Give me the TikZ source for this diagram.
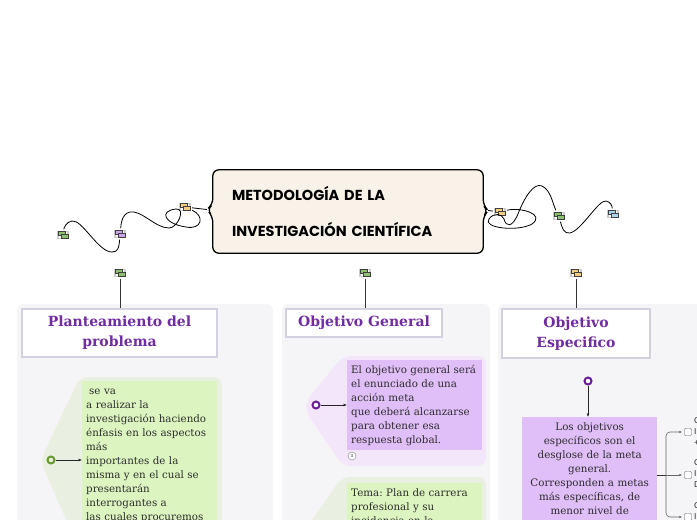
\documentclass[tikz,border=0pt]{standalone}
\usepackage{fontspec}
\setmainfont{DejaVu Serif}
\newfontfamily\handfont{Poppins}
\newfontfamily\smallsans{Liberation Sans}
\usetikzlibrary{
  arrows.meta,
  positioning,
  calc,
  backgrounds
}
\definecolor{MapPurple}{RGB}{112,44,160}
\definecolor{CardPurple}{RGB}{224,190,248}
\definecolor{CardGreen}{RGB}{220,245,192}
\definecolor{TabPurple}{RGB}{244,230,250}
\definecolor{TabGreen}{RGB}{233,240,226}
\definecolor{PanelGray}{RGB}{245,245,248}
\definecolor{TitleLine}{RGB}{212,208,224}
\definecolor{CoreCream}{RGB}{248,242,232}
\definecolor{TextGray}{RGB}{45,45,45}
\definecolor{RingGreen}{RGB}{104,150,48}
\definecolor{RingPurple}{RGB}{106,30,150}
\definecolor{TagGreen}{RGB}{140,192,110}
\definecolor{TagPurple}{RGB}{204,164,236}
\definecolor{TagYellow}{RGB}{242,204,128}
\definecolor{TagBlue}{RGB}{170,212,236}
\tikzset{
  tag/.style={minimum width=14pt,minimum height=11pt,inner sep=0pt,path picture={
    \draw[black!20,line width=1.2pt] ([shift={(-5pt,3.5pt)}]path picture bounding box.center) rectangle ++(10pt,-7pt);
    \draw[draw=black!75,fill=#1,line width=0.6pt] ([shift={(-5pt,3.5pt)}]path picture bounding box.center) rectangle ++(7pt,-4pt);
    \draw[draw=black!75,fill=#1,line width=0.6pt] ([shift={(-2pt,0.5pt)}]path picture bounding box.center) rectangle ++(7pt,-4pt);}},
  core/.style={minimum width=270pt,minimum height=83pt,text width=232pt,align=left,inner sep=0pt,font=\handfont\bfseries\fontsize{14.5}{36}\selectfont},
  titlebox/.style={draw=TitleLine,line width=1.5pt,fill=white,align=center,inner sep=0pt,text=MapPurple,font=\bfseries\fontsize{14}{20}\selectfont},
  card/.style={fill=#1,anchor=north west,inner xsep=4pt,inner ysep=3pt,text width=127pt,align=left,text=TextGray,
    font=\frenchspacing\fontsize{10.3}{14}\selectfont,execute at begin node=\strut,execute at end node=\strut},
  ring/.style={circle,draw=#1,line width=2pt,fill=white,minimum size=7pt,inner sep=0pt},
  tick/.style={draw=black!60,fill=white,minimum size=7pt,inner sep=0pt,rounded corners=1pt},
  wire/.style={line width=0.8pt,draw=black},
  stem/.style={line width=0.8pt,draw=black!80},
  link/.style={-{Latex[length=3.5pt,width=3pt]},line width=0.6pt,draw=black!85},
  branch/.style={-{Latex[length=3pt,width=2.5pt]},line width=0.6pt,draw=black!60,rounded corners=4pt,shorten >=2pt}
}

\begin{document}
\begin{tikzpicture}[x=1pt,y=-1pt]
\useasboundingbox (0,0) rectangle (697,520);
% column panels
\fill[PanelGray,rounded corners=6pt] (17,304) rectangle (273,545);
\fill[PanelGray,rounded corners=6pt] (282,304) rectangle (490,545);
\fill[PanelGray,rounded corners=6pt] (498,304) rectangle (720,545);
% central topic
\node[core] (meta) at (348,211.5) {METODOLOGÍA DE LA\\INVESTIGACIÓN CIENTÍFICA};
\begin{scope}[on background layer]
\draw[line width=1.3pt,fill=CoreCream,rounded corners=6pt] (meta.north west) -- (meta.north east)
  -- ([yshift=6pt]meta.east) -- ([xshift=5pt,yshift=1pt]meta.east) -- ([yshift=-5pt]meta.east)
  -- (meta.south east) -- (meta.south west) -- ([yshift=-5pt]meta.west)
  -- ([xshift=-6pt,yshift=2pt]meta.west) -- ([yshift=7pt]meta.west) -- cycle;
\end{scope}
\coordinate (ltip) at ([xshift=-6pt,yshift=2pt]meta.west);
\coordinate (rtip) at ([xshift=5pt,yshift=1pt]meta.east);
% floating tags
\node[tag=TagYellow] (y1) at (185,207) {};
\node[tag=TagPurple] (p1) at (120,234) {};
\node[tag=TagGreen] (g1) at (63,235) {};
\node[tag=TagYellow] (y2) at (500,212) {};
\node[tag=TagGreen] (g2) at (559,216) {};
\node[tag=TagBlue] (b2) at (613,214) {};
\draw[wire] (y1) -- (ltip);
\draw[wire] (rtip) -- (y2);
\draw[wire] (y1) .. controls (205,216) and (202,230) .. (186,227) .. controls (165,224) and (158,211) .. (176,209)
  .. controls (186,208) and (178,228) .. (169,228) .. controls (155,228) and (142,210) .. (130,212)
  .. controls (121,214) and (121,226) .. (p1);
\draw[wire] (p1) .. controls (119,248) and (118,252) .. (112,252) .. controls (98,252) and (82,219) .. (72,221)
  .. controls (66,222) and (64,228) .. (g1);
\draw[wire] (y2) .. controls (520,207) and (546,214) .. (532,224) .. controls (518,232) and (482,228) .. (489,219)
  .. controls (494,212) and (502,214) .. (504,219) .. controls (506,227) and (512,228) .. (518,214)
  .. controls (524,198) and (534,182) .. (542,186) .. controls (551,190) and (553,205) .. (g2);
\draw[wire] (g2) .. controls (562,228) and (564,234) .. (570,233) .. controls (582,230) and (598,200) .. (606,201)
  .. controls (611,202) and (612,206) .. (b2);
% column heads
\node[titlebox,minimum width=195pt,minimum height=48pt] (t1) at (119.5,333) {Planteamiento del\\problema};
\node[titlebox,minimum width=156pt,minimum height=28pt] (t2) at (364,323) {Objetivo General};
\node[titlebox,minimum width=148pt,minimum height=49pt] (t3) at (576,333.5) {Objetivo\\Especifico};
\node[tag=TagGreen] (g3) at (120,273) {};
\node[tag=TagGreen] (g4) at (365,273) {};
\node[tag=TagYellow] (y3) at (576,273) {};
\draw[stem] (g3) -- (g3 |- t1.north);
\draw[stem] (g4) -- (g4 |- t2.north);
\draw[stem] (y3) -- (y3 |- t3.north);
% left column
\fill[TabGreen,rounded corners=8pt] (80,377) -- (222,377) -- (222,560) -- (84,560) -- (42,465) -- (42,457) -- cycle;
\node[card=CardGreen] (plan) at (82,381) {\hspace{3pt}se va\\a realizar la\\investigación haciendo\\énfasis en los aspectos\\más\\importantes de la\\misma y en el cual se\\presentarán\\interrogantes a\\las cuales procuremos};
\node[ring=RingGreen,fill=TabGreen] (dot1) at (51,460) {};
\draw[link] (dot1) -- (dot1 -| plan.west);
% middle column
\fill[TabPurple,rounded corners=8pt] (343,356) -- (486,356) -- (486,466) -- (343,466) -- (306,412) -- (306,401) -- cycle;
\node[card=CardPurple] (general) at (347,360) {El objetivo general será\\el enunciado de una\\acción meta\\que deberá alcanzarse\\para obtener esa\\respuesta global.};
\node[ring=RingPurple] (dot2) at (316,405) {};
\draw[link] (dot2) -- (dot2 -| general.west);
\node[circle,draw=black!50,fill=white,minimum size=8pt,inner sep=0pt,font=\fontsize{4}{4}\selectfont] (count) at (352,456) {3};
\fill[TabGreen,rounded corners=8pt] (342,477) -- (486,477) -- (486,560) -- (300,560) -- (305,530) -- cycle;
\node[card=CardGreen] (tema) at (347,483) {Tema: Plan de carrera\\profesional y su\\incidencia en la};
% right column
\node[card=CardPurple,align=center] (especifico) at (522,417) {Los objetivos\\específicos son el\\desglose de la meta\\general.\\Corresponden a metas\\más específicas, de\\menor nivel de};
\node[ring=RingPurple] (dot3) at (588,381) {};
\draw[link] (dot3) -- (dot3 |- especifico.north);
\coordinate (fork) at (666,475);
\draw[stem,line width=0.6pt] (especifico.east |- fork) -- (fork);
\node[tick] (c1) at (688,432) {};
\node[tick] (c2) at (688,475) {};
\node[tick] (c3) at (688,517) {};
\draw[branch] (fork) |- (c1);
\draw[branch] (fork) -- (c2);
\draw[branch] (fork) |- (c3);
\node[anchor=west,inner sep=0pt,align=left,text=TextGray,font=\smallsans\fontsize{8.5}{11}\selectfont] (sub1) at (694,432) {C\\I\\+};
\node[anchor=west,inner sep=0pt,align=left,text=TextGray,font=\smallsans\fontsize{8.5}{11}\selectfont] (sub2) at (694,474) {C\\I\\D};
\node[anchor=west,inner sep=0pt,align=left,text=TextGray,font=\smallsans\fontsize{8.5}{11}\selectfont] (sub3) at (694,511) {C\\I};
\end{tikzpicture}
\end{document}
